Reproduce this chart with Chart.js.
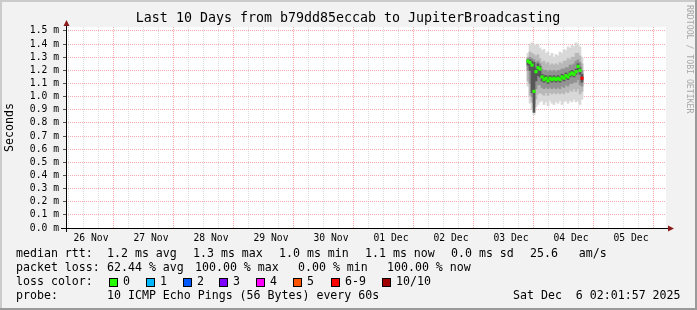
<!DOCTYPE html>
<html lang="en">
<head>
<meta charset="UTF-8">
<title>Last 10 Days from b79dd85eccab to JupiterBroadcasting</title>
<style>
  html, body { margin: 0; padding: 0; background: #f2f2f2; }
  #wrap { width: 697px; height: 310px; }
</style>
</head>
<body>
<div id="wrap"><canvas id="smoke" width="697" height="310"></canvas></div>

<script src="https://cdn.jsdelivr.net/npm/chart.js@4"></script>
<script>
// time axis is in hours since 26 Nov 00:00
const rangeStart = 2.0;
const rangeEnd = 242.0;
const dayLabels = ['26 Nov', '27 Nov', '28 Nov', '29 Nov', '30 Nov', '01 Dec', '02 Dec', '03 Dec', '04 Dec', '05 Dec'];

// one column every 48 min
const hours = [186.8, 187.6, 188.4, 189.2, 190.0, 190.8, 191.6, 192.4, 193.2, 194.0, 194.8, 195.6, 196.4, 197.2,
               198.0, 198.8, 199.6, 200.4, 201.2, 202.0, 202.8, 203.6, 204.4, 205.2, 206.0, 206.8, 207.6, 208.4];

// median rtt (ms)
const median = [1.27, 1.26, 1.24, 1.04, 1.19, 1.22, 1.21, 1.15, 1.13, 1.14, 1.12, 1.14, 1.13, 1.14,
                1.13, 1.14, 1.13, 1.15, 1.14, 1.16, 1.15, 1.17, 1.18, 1.17, 1.19, 1.23, 1.20, 1.14];
// lost pings out of 10
const lossCount = [0, 0, 0, 0, 0, 0, 0, 0, 0, 0, 0, 0, 0, 0, 0, 0, 0, 0, 0, 0, 0, 0, 0, 0, 0, 0, 0, 7];

// smoke bands [low, high] in ms, outermost first
const smokeOuter = [[1.08, 1.33], [0.95, 1.40], [0.90, 1.41], [0.86, 1.40], [0.92, 1.39], [0.94, 1.40], [0.96, 1.37],
                    [0.97, 1.35], [0.94, 1.36], [0.96, 1.33], [0.93, 1.34], [0.97, 1.31], [0.95, 1.33], [0.94, 1.30],
                    [0.96, 1.32], [0.95, 1.31], [0.97, 1.34], [0.94, 1.33], [0.96, 1.36], [0.97, 1.35], [0.95, 1.38],
                    [0.97, 1.37], [0.96, 1.39], [0.98, 1.38], [0.96, 1.41], [0.97, 1.40], [0.94, 1.38], [0.98, 1.30]];
const smokeMid = [[1.12, 1.30], [1.01, 1.34], [0.96, 1.33], [0.92, 1.32], [0.98, 1.31], [1.02, 1.32], [1.03, 1.29],
                  [1.02, 1.26], [1.01, 1.27], [1.03, 1.25], [1.01, 1.26], [1.03, 1.24], [1.02, 1.25], [1.03, 1.24],
                  [1.02, 1.25], [1.03, 1.24], [1.02, 1.26], [1.03, 1.25], [1.02, 1.27], [1.04, 1.27], [1.03, 1.29],
                  [1.05, 1.28], [1.04, 1.30], [1.06, 1.30], [1.04, 1.33], [1.06, 1.33], [1.02, 1.31], [1.04, 1.25]];
const smokeInner = [[1.20, 1.29], [1.10, 1.30], [1.00, 1.29], [0.95, 1.28], [1.06, 1.26], [1.09, 1.27], [1.09, 1.25],
                    [1.07, 1.21], [1.06, 1.20], [1.07, 1.20], [1.06, 1.19], [1.07, 1.20], [1.06, 1.19], [1.07, 1.20],
                    [1.06, 1.19], [1.07, 1.20], [1.06, 1.20], [1.08, 1.21], [1.07, 1.21], [1.09, 1.22], [1.08, 1.22],
                    [1.10, 1.24], [1.10, 1.24], [1.11, 1.25], [1.11, 1.27], [1.13, 1.28], [1.09, 1.26], [1.08, 1.20]];
const smokeCore = [[1.24, 1.28], [1.20, 1.28], [1.03, 1.27], [0.88, 1.26], [1.12, 1.22], [1.16, 1.25], [1.15, 1.23],
                   [1.12, 1.17], [1.11, 1.16], [1.12, 1.16], [1.10, 1.15], [1.12, 1.16], [1.11, 1.15], [1.12, 1.16],
                   [1.11, 1.15], [1.12, 1.16], [1.11, 1.15], [1.13, 1.17], [1.12, 1.16], [1.14, 1.18], [1.13, 1.17],
                   [1.15, 1.19], [1.16, 1.20], [1.15, 1.19], [1.17, 1.21], [1.20, 1.25], [1.17, 1.22], [1.11, 1.17]];

// legend texts
const titleText = 'Last 10 Days from b79dd85eccab to JupiterBroadcasting';
const rttStats = ['1.2 ms avg', '1.3 ms max', '1.0 ms min', '1.1 ms now', '0.0 ms sd', '25.6   am/s'];
const lossStats = ['62.44 % avg', '100.00 % max', '0.00 % min', '100.00 % now'];
const lossLabels = ['0', '1', '2', '3', '4', '5', '6-9', '10/10'];
const lossColors = ['#26ff00', '#00b8ff', '#0059ff', '#7e00ff', '#ff00ff', '#ff5500', '#ff0000', '#a10000'];
const probeText = '10 ICMP Echo Pings (56 Bytes) every 60s';
const stampText = 'Sat Dec  6 02:01:57 2025';

const mono = '"DejaVu Sans Mono", "Liberation Mono", monospace';
const majorGrid = '#f2aaaa';
const minorGrid = '#dcdcdc';

function lossBucket(n) {
    if (n >= 10) return 7;
    if (n >= 6) return 6;
    return n;
}

function band(ranges, colour, order) {
    return {
        data: ranges.map((r, i) => ({ x: hours[i], y: r })),
        backgroundColor: colour,
        borderWidth: 0,
        grouped: false,
        barPercentage: 1,
        categoryPercentage: 1,
        order: order
    };
}

// background, axes with arrows and the rrdtool style legend
const rrdLook = {
    id: 'rrdLook',
    beforeDraw(chart) {
        const { ctx, chartArea: a, width, height } = chart;
        ctx.save();
        ctx.fillStyle = '#f2f2f2';
        ctx.fillRect(0, 0, width, height);
        ctx.fillStyle = '#cbcbcb';
        ctx.fillRect(0, 0, width, 2);
        ctx.fillRect(0, 0, 2, height);
        ctx.fillStyle = '#9a9a9a';
        ctx.fillRect(0, height - 2, width, 2);
        ctx.fillRect(width - 2, 0, 2, height);
        ctx.fillStyle = '#ffffff';
        ctx.fillRect(a.left, a.top, a.right - a.left, a.bottom - a.top);
        ctx.restore();
    },
    afterDraw(chart) {
        const { ctx, chartArea: a } = chart;
        ctx.save();

        // axes
        ctx.strokeStyle = '#000';
        ctx.lineWidth = 1;
        ctx.beginPath();
        ctx.moveTo(a.left - 5, a.bottom + 0.5);
        ctx.lineTo(a.right + 3, a.bottom + 0.5);
        ctx.moveTo(a.left + 0.5, a.bottom + 4);
        ctx.lineTo(a.left + 0.5, a.top - 1);
        ctx.stroke();
        ctx.fillStyle = '#8b1a1a';
        ctx.beginPath();
        ctx.moveTo(a.right + 2, a.bottom - 2.5);
        ctx.lineTo(a.right + 8, a.bottom + 0.5);
        ctx.lineTo(a.right + 2, a.bottom + 3.5);
        ctx.fill();
        ctx.beginPath();
        ctx.moveTo(a.left - 2.5, a.top - 1);
        ctx.lineTo(a.left + 0.5, a.top - 7);
        ctx.lineTo(a.left + 3.5, a.top - 1);
        ctx.fill();

        // title
        ctx.fillStyle = '#000';
        ctx.textBaseline = 'middle';
        ctx.textAlign = 'center';
        ctx.font = '13.3px ' + mono;
        ctx.fillText(titleText, 348, 19);

        // watermark
        ctx.save();
        ctx.translate(689, 5);
        ctx.rotate(Math.PI / 2);
        ctx.textAlign = 'left';
        ctx.fillStyle = '#a8a8a8';
        ctx.font = '8.2px ' + mono;
        ctx.fillText('RRDTOOL / TOBI OETIKER', 0, 0);
        ctx.restore();

        // legend rows
        ctx.textAlign = 'left';
        ctx.font = '11.6px ' + mono;
        const rttX = [107, 193, 279, 365, 451, 530];
        const lossX = [107, 195, 298, 387];
        const keyX = [109, 146, 183, 219, 256, 293, 331, 382];

        ctx.fillText('median rtt:', 16, 254);
        rttStats.forEach((s, i) => ctx.fillText(s, rttX[i], 254));

        ctx.fillText('packet loss:', 16, 268);
        lossStats.forEach((s, i) => ctx.fillText(s, lossX[i], 268));

        ctx.fillText('loss color:', 16, 282);
        lossLabels.forEach((s, i) => {
            ctx.fillStyle = lossColors[i];
            ctx.fillRect(keyX[i], 278, 8, 8);
            ctx.strokeStyle = '#000';
            ctx.strokeRect(keyX[i] + 0.5, 278.5, 8, 8);
            ctx.fillStyle = '#000';
            ctx.fillText(s, keyX[i] + 14, 282);
        });

        ctx.fillText('probe:', 16, 296);
        ctx.fillText(probeText, 107, 296);
        ctx.fillText(stampText, 513, 296);

        ctx.restore();
    }
};

new Chart(document.getElementById('smoke'), {
    type: 'bar',
    data: {
        datasets: [
            {
                type: 'line',
                data: median.map((v, i) => ({ x: hours[i], y: v })),
                showLine: false,
                pointStyle: 'rect',
                pointRadius: 2.2,
                pointBorderWidth: 0,
                pointBackgroundColor: c => lossColors[lossBucket(lossCount[c.dataIndex])],
                order: 0
            },
            band(smokeCore, '#575757', 1),
            band(smokeInner, '#929292', 2),
            band(smokeMid, '#b8b8b8', 3),
            band(smokeOuter, '#d8d8d8', 4)
        ]
    },
    options: {
        responsive: false,
        animation: false,
        events: [],
        layout: { padding: { top: 27, right: 31, bottom: 0, left: 0 } },
        plugins: {
            legend: { display: false },
            tooltip: { enabled: false }
        },
        scales: {
            x: {
                type: 'linear',
                min: rangeStart,
                max: rangeEnd,
                offset: false,
                z: 1,
                afterFit: s => { s.height = 82; },
                afterBuildTicks: s => {
                    const ticks = [];
                    for (let d = 0; d <= 10; d++) {
                        [0, 6, 12, 18].forEach(q => {
                            const v = d * 24 + q;
                            if (v > rangeStart && v < rangeEnd) ticks.push({ value: v });
                        });
                    }
                    s.ticks = ticks;
                },
                grid: {
                    color: c => (c.tick && c.tick.value % 24 === 0) ? majorGrid : minorGrid,
                    lineWidth: 1,
                    drawTicks: false
                },
                border: { display: false, dash: [1, 1] },
                ticks: {
                    autoSkip: false,
                    maxRotation: 0,
                    padding: 5,
                    color: '#000',
                    font: { family: mono, size: 9.7 },
                    callback: v => v % 24 === 12 ? dayLabels[Math.floor(v / 24)] : ''
                }
            },
            y: {
                min: 0,
                max: 1.53,
                z: 1,
                afterFit: s => { s.width = 66; },
                grid: { color: majorGrid, lineWidth: 1, drawTicks: true, tickLength: 3, tickColor: '#555' },
                border: { display: false, dash: [1, 1] },
                ticks: {
                    stepSize: 0.1,
                    includeBounds: false,
                    autoSkip: false,
                    padding: 4,
                    color: '#000',
                    font: { family: mono, size: 9.7 },
                    callback: v => v.toFixed(1) + ' m'
                },
                title: {
                    display: true,
                    text: 'Seconds',
                    color: '#000',
                    font: { family: mono, size: 11.6 },
                    padding: { top: 3, bottom: 0 }
                }
            }
        }
    },
    plugins: [rrdLook]
});
</script>
</body>
</html>
